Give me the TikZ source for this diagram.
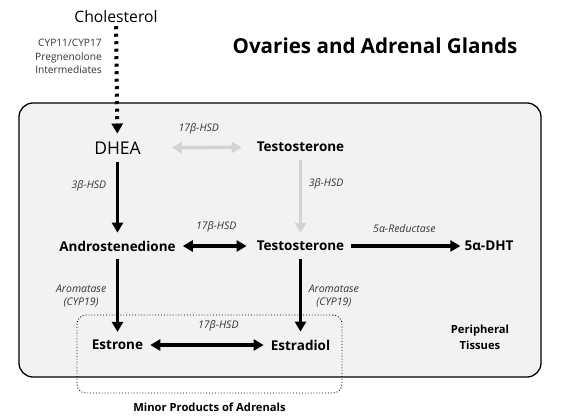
\documentclass[tikz,border=0pt]{standalone}
\usepackage{fontspec}
\setmainfont{Open Sans}
\usetikzlibrary{arrows.meta,positioning}
\definecolor{fadegrey}{HTML}{D3D3D3}
\definecolor{tissuefill}{HTML}{F2F2F2}
\definecolor{enzgrey}{HTML}{333333}

\begin{document}
\begin{tikzpicture}[x=1pt,y=-1pt,
  met/.style={font=\fontsize{13.5}{15}\selectfont\bfseries,inner xsep=7pt,inner ysep=8pt},
  enz/.style={font=\fontsize{10.5}{13}\selectfont\itshape,text=enzgrey,inner sep=0pt,align=center},
  tag/.style={font=\fontsize{11.2}{16}\selectfont\bfseries,inner sep=0pt,align=center},
  rx/.style={line width=3.5pt,-{Triangle[length=10pt,width=11pt]}},
  rxx/.style={line width=3.5pt,{Triangle[length=10pt,width=11pt]}-{Triangle[length=10pt,width=11pt]}},
  faint/.style={draw=fadegrey}
]
\useasboundingbox (0,0) rectangle (576,420);

% compartments
\node[draw,line width=1.3pt,fill=tissuefill,rounded corners=14pt,
      minimum width=522pt,minimum height=274pt,inner sep=0pt] (gland) at (280,240) {};
\node[draw,dotted,line width=0.9pt,rounded corners=9pt,
      minimum width=265pt,minimum height=78pt,inner sep=0pt] (minor) at (209.5,354) {};

\node[font=\fontsize{20.6}{24}\selectfont\bfseries] (title) at (375,46) {Ovaries and Adrenal Glands};
\node[tag] (periph) at (480,337) {Peripheral\\Tissues};
\node[tag,below=9pt of minor] (minorlbl) {Minor Products of Adrenals};

% metabolites
\node[font=\fontsize{15.7}{18}\selectfont,inner sep=3pt] (chol) at (116,17) {Cholesterol};
\node[enz,font=\fontsize{10.2}{13.5}\selectfont,align=right] (cyp) at (68.5,56.5) {CYP11/CYP17\\Pregnenolone\\Intermediates};
\node[met,font=\fontsize{17.5}{20}\selectfont] (dhea) at (117.5,148) {DHEA};
\node[met] (testoA) at (300.5,147) {Testosterone};
\node[met] (andro) at (117.5,246) {Androstenedione};
\node[met] (testoB) at (300.5,246) {Testosterone};
\node[met] (dht) at (489,246) {5α-DHT};
\node[met] (estrone) at (117.5,345) {Estrone};
\node[met] (estradiol) at (300.5,345) {Estradiol};

% reactions
\draw[line width=4pt,dash pattern=on 3pt off 4.5pt,-{Triangle[length=10pt,width=11pt]}]
  (chol) -- (dhea);
\draw[rxx,faint,shorten <=24pt,shorten >=8pt] (dhea) -- node[enz,above=12pt]{17β-HSD} (testoA);
\draw[rx,faint] (testoA) -- node[enz,right=6.5pt,pos=0.33]{3β-HSD} (testoB);
\draw[rx] (dhea) -- node[enz,left=9.5pt,pos=0.33]{3β-HSD} (andro);
\draw[rxx,shorten >=3pt] (andro) -- node[enz,above=12pt]{17β-HSD} (testoB);
\draw[rx,shorten >=-3pt] (testoB) -- node[enz,above=12pt]{5α-Reductase} (dht);
\draw[rx] (andro) -- node[enz,left=9.5pt,pos=0.51]{Aromatase\\(CYP19)} (estrone);
\draw[rx] (testoB) -- node[enz,right=6.5pt,pos=0.51]{Aromatase\\(CYP19)} (estradiol);
\draw[rxx] (estrone) -- node[enz,above=12pt,pos=0.6]{17β-HSD} (estradiol);
\end{tikzpicture}
\end{document}
